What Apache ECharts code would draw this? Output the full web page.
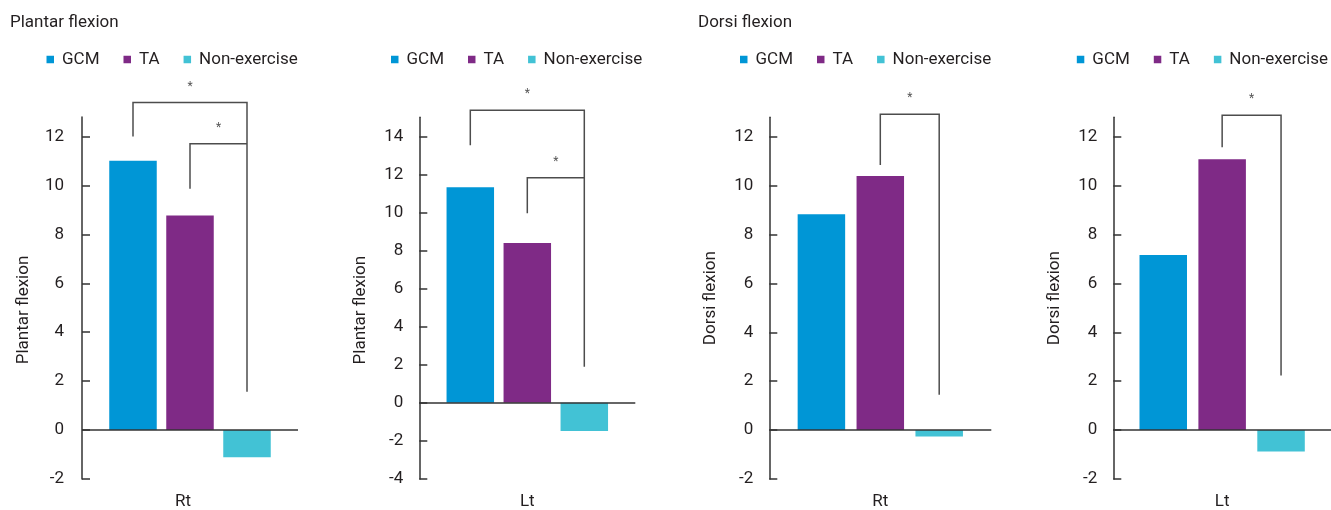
<!DOCTYPE html>
<html>
<head>
<meta charset="utf-8">
<script src="https://cdn.jsdelivr.net/npm/echarts@6/dist/echarts.min.js"></script>
<style>
  html, body { margin: 0; padding: 0; background: #fff; }
  #chart { width: 1331px; height: 510px; }
</style>
</head>
<body>
<div id="chart"></div>
<script>
// ---------- data ----------
const seriesNames = ['GCM', 'TA', 'Non-exercise'];
const panelTitles = ['Plantar flexion', 'Dorsi flexion'];
const yNames = ['Plantar flexion', 'Plantar flexion', 'Dorsi flexion', 'Dorsi flexion'];
const sideCats = [['Rt'], ['Lt'], ['Rt'], ['Lt']];

// values per panel: [GCM, TA, Non-exercise]
const plantarRt = [11.01, 8.77, -1.11];
const plantarLt = [11.33, 8.40, -1.48];
const dorsiRt   = [8.83, 10.40, -0.26];
const dorsiLt   = [7.17, 11.08, -0.87];

// y-axis ranges and tick labels
const yMin = [-2, -4, -2, -2];
const yMax = [12.8, 15, 12.8, 12.8];
const ticksA = [-2, 0, 2, 4, 6, 8, 10, 12];
const ticksB = [-4, -2, 0, 2, 4, 6, 8, 10, 12, 14];

// significance brackets: [fromBar, toBar, topValue, fromLegBottom, toLegBottom]
const bracketsPlantarRt = [[0, 2, 13.39, 12.00, 1.57], [1, 2, 11.71, 9.87, 11.71]];
const bracketsPlantarLt = [[0, 2, 15.37, 13.53, 1.90], [1, 2, 11.82, 9.96, 11.82]];
const bracketsDorsiRt   = [[1, 2, 12.92, 10.85, 1.45]];
const bracketsDorsiLt   = [[1, 2, 12.88, 11.57, 2.24]];

// ---------- style / layout ----------
const colors = ['#0096d6', '#7f2a86', '#42c2d5'];
const FONT = 'Roboto';
const TXT = '#231f20';
const AX = '#333333';
const BAR_W = 47.5;
const panelValues = [plantarRt, plantarLt, dorsiRt, dorsiLt];
const panelBrackets = [bracketsPlantarRt, bracketsPlantarLt, bracketsDorsiRt, bracketsDorsiLt];
const panelTicks = [ticksA, ticksB, ticksA, ticksA];
const barGaps = [0.20, 0.20, 0.24, 0.24];
const grids = [
  { left: 82,   top: 117,   width: 216, height: 363.5 },
  { left: 419.3, top: 117.3, width: 216, height: 363.7 },
  { left: 769.3, top: 117.3, width: 222, height: 362.7 },
  { left: 1113.3, top: 117.3, width: 240, height: 362.7 }
];
const legendPos = [{ left: 46.5 }, { left: 391 }, { left: 740 }, { right: 3 }];
const yNamePad = [[0, 24, 0, 0], [0, 24, 0, 0], [0, 0, 0, 0], [0, 0, 0, 0]];
const xLabelPad = [[0, 14, 0, 0], [0, 0, 0, 0], [0, 0, 0, 0], [0, 0, 0, 0]];
const tickMargin = [18, 16, 16, 16];

function bracketRenderer(step) {
  return function (params, api) {
    const from = api.value(0), to = api.value(1);
    const top = api.value(2), lb = api.value(3), rb = api.value(4);
    const c = api.coord([0, top]);
    const x1 = c[0] + (from - 1) * step;
    const x2 = c[0] + (to - 1) * step;
    const yTop = c[1];
    const yL = api.coord([0, lb])[1];
    const yR = api.coord([0, rb])[1];
    return {
      type: 'group',
      children: [
        {
          type: 'polyline',
          shape: { points: [[x1, yL], [x1, yTop], [x2, yTop], [x2, yR]] },
          style: { stroke: '#4d4d4d', lineWidth: 1.5, fill: null }
        },
        {
          type: 'text',
          style: {
            text: '*', x: (x1 + x2) / 2, y: yTop - 16,
            align: 'center', verticalAlign: 'middle',
            fontSize: 12, fontFamily: FONT, fill: '#555'
          }
        }
      ]
    };
  };
}

const option = {
  animation: false,
  backgroundColor: '#fff',
  title: [
    { text: panelTitles[0], left: 10, top: 14, padding: 0, textStyle: { fontFamily: FONT, fontSize: 17, fontWeight: 'normal', color: TXT } },
    { text: panelTitles[1], left: 698, top: 14, padding: 0, textStyle: { fontFamily: FONT, fontSize: 17, fontWeight: 'normal', color: TXT } }
  ],
  legend: legendPos.map(pos => Object.assign({
    data: seriesNames, top: 51, padding: 0, orient: 'horizontal',
    icon: 'rect', itemWidth: 7.5, itemHeight: 7.5, itemGap: 24,
    textStyle: { fontFamily: FONT, fontSize: 17, color: TXT, padding: [0, 0, 0, 3] },
    selectedMode: false
  }, pos)),
  grid: grids,
  xAxis: grids.map((g, i) => ({
    type: 'category', gridIndex: i, data: sideCats[i],
    axisLine: { show: false }, axisTick: { show: false },
    axisLabel: { margin: 14, fontFamily: FONT, fontSize: 17, color: TXT, padding: xLabelPad[i] }
  })),
  yAxis: grids.map((g, i) => ({
    type: 'value', gridIndex: i, min: yMin[i], max: yMax[i], interval: 2,
    name: yNames[i], nameLocation: 'middle', nameGap: 50, nameRotate: 90,
    nameTextStyle: { fontFamily: FONT, fontSize: 17, color: TXT, padding: yNamePad[i] },
    splitLine: { show: false },
    axisLine: { show: true, lineStyle: { color: AX, width: 1.5 } },
    axisTick: { show: true, inside: true, length: 8, lineStyle: { color: AX, width: 1.5 }, customValues: panelTicks[i] },
    axisLabel: { fontFamily: FONT, fontSize: 17, color: TXT, margin: tickMargin[i], customValues: panelTicks[i] }
  })),
  series: []
};

panelValues.forEach((vals, p) => {
  seriesNames.forEach((name, s) => {
    const ser = {
      name: name, type: 'bar', xAxisIndex: p, yAxisIndex: p,
      data: [vals[s]], barWidth: BAR_W, barGap: (barGaps[p] * 100) + '%',
      itemStyle: { color: colors[s] }, silent: true
    };
    if (s === 0) {
      ser.markLine = {
        silent: true, symbol: ['none', 'none'], label: { show: false },
        lineStyle: { color: AX, width: 1.5, type: 'solid' },
        data: [{ yAxis: 0 }], z: 5
      };
    }
    option.series.push(ser);
  });
  option.series.push({
    type: 'custom', xAxisIndex: p, yAxisIndex: p, silent: true,
    renderItem: bracketRenderer(BAR_W * (1 + barGaps[p])),
    encode: { x: 0, y: 2 },
    data: panelBrackets[p], z: 10
  });
});

const chart = echarts.init(document.getElementById('chart'), null, { renderer: 'canvas' });
chart.setOption(option);
</script>
</body>
</html>
